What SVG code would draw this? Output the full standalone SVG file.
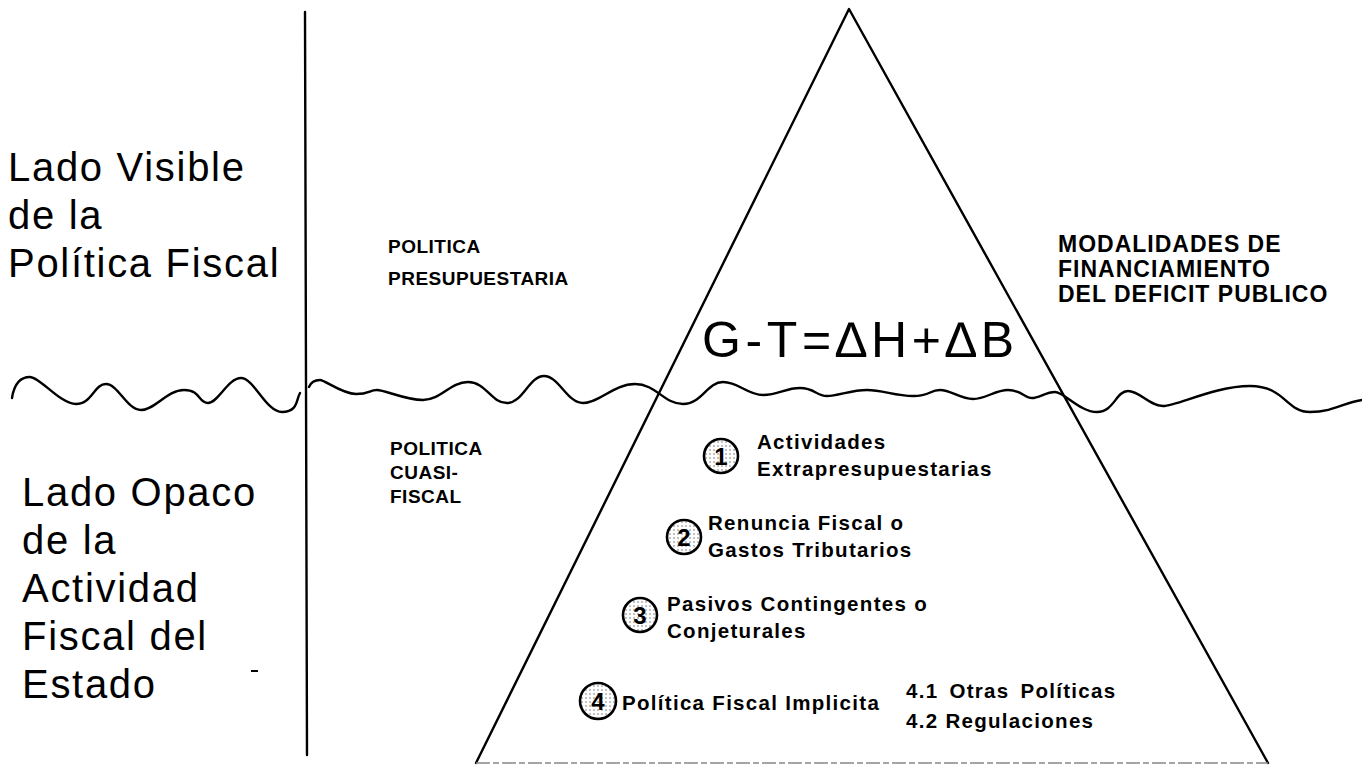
<svg xmlns="http://www.w3.org/2000/svg" width="1362" height="766" viewBox="0 0 1362 766">
<defs>
<pattern id="dots" width="4" height="4" patternUnits="userSpaceOnUse">
<rect width="4" height="4" fill="#fff"/>
<circle cx="2" cy="2" r="0.8" fill="#777"/>
</pattern>
<style>
.big{font-family:"Liberation Sans",Arial,sans-serif;font-size:40px;letter-spacing:1.7px;fill:#000}
.cap{font-family:"Liberation Sans",Arial,sans-serif;font-weight:bold;font-size:19px;letter-spacing:0.5px;fill:#000}
.cap2{font-family:"Liberation Sans",Arial,sans-serif;font-weight:bold;font-size:23px;letter-spacing:1px;fill:#000}
.item{font-family:"Liberation Sans",Arial,sans-serif;font-weight:bold;font-size:20.5px;letter-spacing:1.3px;fill:#000}
.num{font-family:"Liberation Sans",Arial,sans-serif;font-weight:bold;font-size:24px;fill:#000;text-anchor:middle}
.eq{font-family:"Liberation Sans",Arial,sans-serif;font-size:50px;fill:#000}
.ln{fill:none;stroke:#000;stroke-width:2.4;stroke-linecap:round;stroke-linejoin:round}
.badge{fill:url(#dots);stroke:#000;stroke-width:2.6}
</style>
</defs>
<rect width="1362" height="766" fill="#fff"/>

<g id="connectors">
<path class="ln" d="M305,12 L307,755"/>
<path class="ln" d="M476,763 L849,9 L1268,763"/>
<path d="M476,763 L1268,763" fill="none" stroke="#888" stroke-width="1.6" stroke-dasharray="14 3 6 3"/>
<path class="ln" d="M12,398 C14,385 20,377 30,377 S60,404 76,404 S94,384 106,384 S127,410 141,410 S167,390 184,390 S198,403 208,403 S228,378 241,378 S266,412 282,412 S296,400 300,393"/>
<path class="ln" d="M309,387 C311,382 315,380 320,380 S342,394 356,394 S369,390 377,390 S405,400 423,400 S450,382 468,382 S491,403 507,403 S529,376 544,376 S567,403 583,403 S614,384 635,384 S664,404 683,404 S707,382 723,382 S747,395 763,395 S785,388 800,388 S816,396 827,396 S851,390 867,390 S895,396 913,396 S929,390 940,390 S960,399 973,399 S995,390 1008,390 S1025,398 1032,398 S1046,392 1055,392 S1080,412 1097,412 S1116,391 1128,391 S1149,406 1163,406 S1215,386 1250,386 S1286,412 1310,412 S1345,402 1362,400"/>
<path d="M251,671 L258,671" stroke="#000" stroke-width="2"/>
</g>

<g id="visible-side">
<text class="big" x="8" y="181">Lado Visible</text>
<text class="big" x="8" y="229">de la</text>
<text class="big" x="8" y="277">Política Fiscal</text>
</g>

<g id="opaque-side">
<text class="big" x="22" y="506">Lado Opaco</text>
<text class="big" x="22" y="554">de la</text>
<text class="big" x="22" y="602">Actividad</text>
<text class="big" x="22" y="650">Fiscal del</text>
<text class="big" x="22" y="698">Estado</text>
</g>

<g id="politica-presupuestaria">
<text class="cap" x="388" y="253">POLITICA</text>
<text class="cap" x="388" y="285">PRESUPUESTARIA</text>
</g>

<g id="modalidades">
<text class="cap2" x="1058" y="252">MODALIDADES DE</text>
<text class="cap2" x="1058" y="277">FINANCIAMIENTO</text>
<text class="cap2" x="1058" y="302">DEL DEFICIT PUBLICO</text>
</g>

<g id="equation">
<text class="eq" x="702" y="357" textLength="312" lengthAdjust="spacing">G-T=∆H+∆B</text>
</g>

<g id="politica-cuasifiscal">
<text class="cap" x="390" y="455">POLITICA</text>
<text class="cap" x="390" y="479">CUASI-</text>
<text class="cap" x="390" y="503">FISCAL</text>
</g>

<g id="item1">
<circle class="badge" cx="721" cy="456" r="17"/>
<text class="num" x="721" y="465">1</text>
<text class="item" x="757" y="449">Actividades</text>
<text class="item" x="757" y="476">Extrapresupuestarias</text>
</g>

<g id="item2">
<circle class="badge" cx="684" cy="537" r="17"/>
<text class="num" x="684" y="546">2</text>
<text class="item" x="708" y="530">Renuncia Fiscal o</text>
<text class="item" x="708" y="557">Gastos Tributarios</text>
</g>

<g id="item3">
<circle class="badge" cx="640" cy="615" r="17"/>
<text class="num" x="640" y="624">3</text>
<text class="item" x="667" y="611">Pasivos Contingentes o</text>
<text class="item" x="667" y="638">Conjeturales</text>
</g>

<g id="item4">
<circle class="badge" cx="598" cy="701" r="18"/>
<text class="num" x="598" y="710">4</text>
<text class="item" x="622" y="710">Política Fiscal Implicita</text>
<text class="item" x="906" y="698" word-spacing="4">4.1 Otras Políticas</text>
<text class="item" x="906" y="728">4.2 Regulaciones</text>
</g>
</svg>
